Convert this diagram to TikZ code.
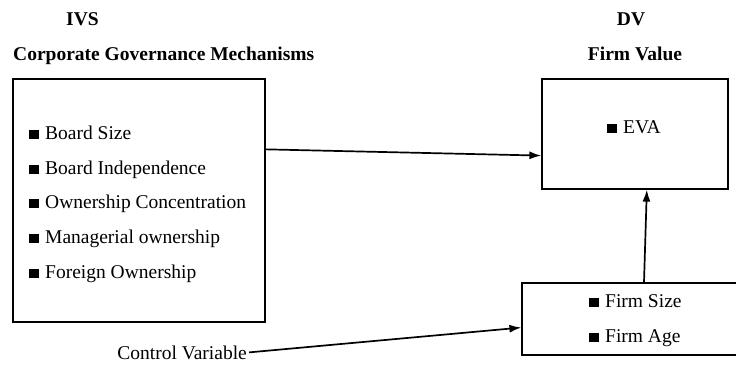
\documentclass[tikz,border=0pt]{standalone}
\usepackage{fontspec}
\setmainfont{Liberation Serif}
\usepackage{tikz}
\usetikzlibrary{arrows.meta,positioning}
\newcommand{\bsq}{\rule{0.52em}{0.44em}\hspace{0.3em}}

\begin{document}
\begin{tikzpicture}[x=1pt, y=-1pt, >={Latex[length=12pt,width=8pt]}, box node/.style={rectangle,draw,line width=1.2pt,inner sep=0pt}, item node/.style={anchor=base west,inner sep=0pt}, link/.style={->,line width=1.7pt}]%y runs downwards
\useasboundingbox (0,0) rectangle (736,364);
\begin{scope}[every node/.style={font=\fontsize{19.5}{23}\selectfont}]
\node[anchor=base,font=\fontsize{19.5}{23}\selectfont\bfseries] (ivs) at (82.5,25) {IVS};
\node[anchor=base west,inner sep=0pt,font=\fontsize{19.5}{23}\selectfont\bfseries] (cgm) at (13,60) {Corporate Governance Mechanisms};
\node[anchor=base,font=\fontsize{19.5}{23}\selectfont\bfseries] (dv) at (631,25) {DV};
\node[anchor=base,font=\fontsize{19.5}{23}\selectfont\bfseries] (fv) at (635,60) {Firm Value};
\node[box node,minimum width=252pt,minimum height=243pt] (cgbox) at (139,200.5) {};
\node[box node,minimum width=186pt,minimum height=110pt] (evabox) at (635,134) {};
\node[box node,minimum width=244pt,minimum height=72pt] (ctrlbox) at (644,319) {};
\node[item node] (b1) at (29,139) {\bsq Board Size};
\node[item node] (b2) at (29,174) {\bsq Board Independence};
\node[item node] (b3) at (29,208) {\bsq Ownership Concentration};
\node[item node] (b4) at (29,243) {\bsq Managerial ownership};
\node[item node] (b5) at (29,278) {\bsq Foreign Ownership};
\node[item node] (eva) at (607,133) {\bsq EVA};
\node[item node] (c1) at (589,307) {\bsq Firm Size};
\node[item node] (c2) at (589,342) {\bsq Firm Age};
\node[anchor=base east,inner xsep=2pt,inner ysep=0pt] (ctrl) at (249,359) {Control Variable};
\end{scope}
\begin{scope}
\draw[link] (cgbox.22) -- (evabox.193);
\draw[link] (ctrlbox.north) -- (evabox.282);
\draw[link] (ctrl.east) -- (ctrlbox.184);
\end{scope}
\end{tikzpicture}
\end{document}
